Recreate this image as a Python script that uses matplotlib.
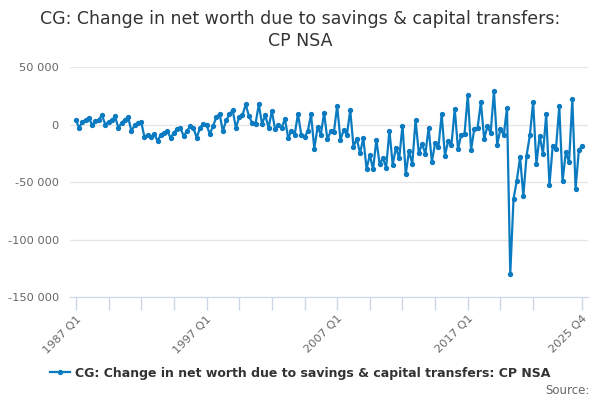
import numpy as np
import matplotlib
matplotlib.use("Agg")
import matplotlib.pyplot as plt
from matplotlib.ticker import FuncFormatter

# quarterly series, 1987 Q1 .. 2025 Q4 (GBP million)
start_year = 1987
values = [
    3.8, -2.9, 2.3, 4.0, 5.8, -0.6, 2.9, 4.3, 8.1, 0.0,
    2.3, 3.5, 7.0, -2.9, 1.4, 4.3, 6.4, -5.8, -0.6, 1.0,
    2.3, -11.0, -8.7, -11.0, -8.0, -14.5, -8.7, -7.2, -5.8, -11.6,
    -7.2, -4.0, -3.0, -10.0, -5.8, -1.4, -2.9, -11.6, -2.9, 0.6,
    -0.6, -8.1, -1.4, 6.4, 9.3, -5.8, 3.5, 8.7, 12.5, -2.9,
    6.4, 8.1, 17.4, 7.2, 1.4, 0.6, 17.4, 0.6, 8.1, -2.9,
    11.6, -4.3, -0.6, -2.9, 4.9, -11.6, -5.8, -8.7, 9.3, -8.7,
    -11.0, -5.8, 8.7, -20.9, -2.3, -8.7, 10.1, -13.0, -6.0, -6.8,
    16.2, -13.2, -5.0, -8.8, 12.6, -19.4, -12.4, -25.0, -11.8, -38.5,
    -26.5, -39.0, -13.2, -34.4, -29.4, -37.4, -5.3, -35.0, -20.0, -29.4,
    -0.9, -43.2, -23.0, -34.4, 3.8, -25.0, -16.8, -25.6, -2.9, -32.4,
    -16.2, -19.7, 8.8, -27.0, -14.1, -17.6, 13.5, -21.3, -8.7, -8.0,
    25.6, -22.1, -3.5, -2.9, 19.5, -12.5, -1.7, -7.3, 29.0, -17.4,
    -3.8, -9.3, 14.5, -130.0, -64.5, -48.8, -28.5, -61.9, -27.0, -9.3,
    19.5, -34.3, -9.6, -25.6, 8.7, -52.9, -18.3, -20.9, 16.0, -49.4,
    -24.1, -32.6, 21.8, -55.8, -22.4, -18.3,
]
values = np.array(values) * 1000
labels = ["%d Q%d" % (start_year + k // 4, k % 4 + 1) for k in range(len(values))]
series_name = "CG: Change in net worth due to savings & capital transfers: CP NSA"
title = "CG: Change in net worth due to savings & capital transfers:\nCP NSA"

BLUE = "#0b7bc1"
GREY = "#666666"

fig = plt.figure(figsize=(6, 4), dpi=100)
ax = fig.add_axes([70 / 600, 1 - 297 / 400, 518 / 600, 230 / 400])

x = np.arange(len(values))
line, = ax.plot(x, values, color=BLUE, lw=1.6, marker="o", ms=2.8,
                solid_joinstyle="round", zorder=3)

ax.set_ylim(-150000, 50000)
ax.set_xlim(-1.8, 156.8)
ax.set_yticks(np.arange(-150000, 50001, 50000))
ax.yaxis.set_major_formatter(FuncFormatter(lambda v, p: "{:,.0f}".format(v).replace(",", " ")))
ax.grid(axis="y", color="#e6e6e6", lw=1)
ax.set_axisbelow(True)

tick_pos = list(range(0, 141, 10)) + [len(values) - 1]
ax.set_xticks(tick_pos)
shown = {0, 40, 80, 120, len(values) - 1}
ax.set_xticklabels([labels[t] if t in shown else "" for t in tick_pos],
                   rotation=45, ha="right", rotation_mode="anchor")
ax.tick_params(axis="x", length=9, width=1, color="#ccd6eb", labelcolor=GREY,
               labelsize=8.2, pad=3)
ax.tick_params(axis="y", length=0, labelcolor=GREY, labelsize=8.2, pad=8)

for s in ["top", "right", "left"]:
    ax.spines[s].set_visible(False)
ax.spines["bottom"].set_color("#ccd6eb")

fig.text(0.5, 1 - 30 / 400, title, ha="center", va="center", fontsize=12.5,
         color="#333333", linespacing=1.25)

leg = fig.legend([line], [series_name], loc="center", bbox_to_anchor=(0.5, 1 - 373 / 400),
                 frameon=False, prop={"size": 9, "weight": "bold"}, handlelength=1.6,
                 handletextpad=0.4, labelcolor="#333333")
fig.text(590 / 600, 1 - 391 / 400, "Source:", ha="right", va="center",
         fontsize=8.5, color=GREY)

fig.savefig("out.png", dpi=100)
